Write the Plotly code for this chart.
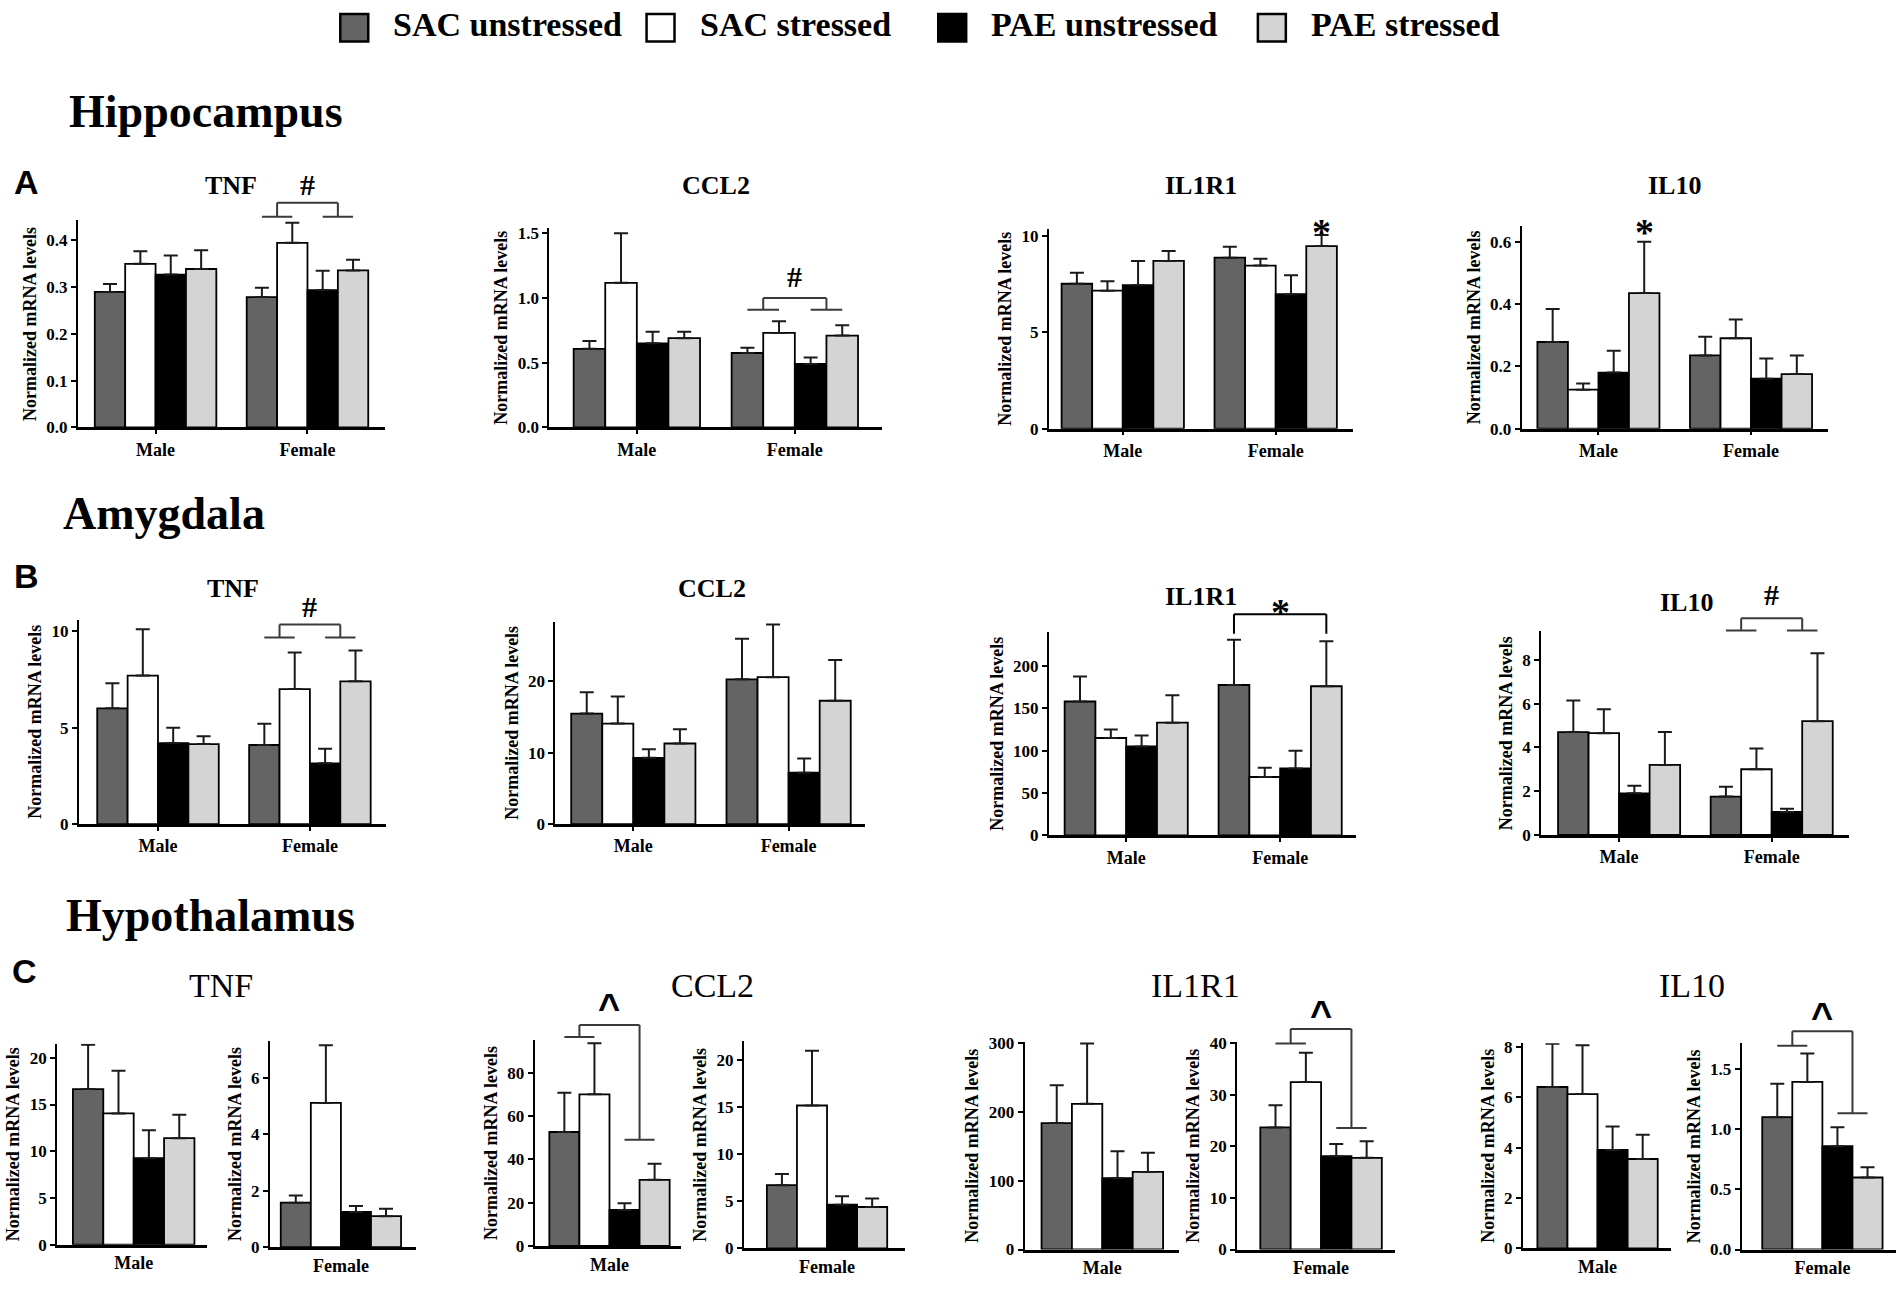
import plotly.graph_objects as go

W, H = 1902, 1289
FW, FH = 1565.0, 1060.6  # frame in which the positions below were measured

SERIF = 'Liberation Serif, Times New Roman, serif'
SANS = 'Liberation Sans, Arial, sans-serif'

groups = ['SAC unstressed', 'SAC stressed', 'PAE unstressed', 'PAE stressed']
colors = ['#646464', '#ffffff', '#000000', '#d4d4d4']
sexes = ['Male', 'Female']

# mean and upper SEM; rows = [Male, Female], columns = groups
hip_tnf_mean = [[0.290, 0.350, 0.327, 0.339], [0.279, 0.395, 0.294, 0.336]]
hip_tnf_sem = [[0.017, 0.027, 0.041, 0.040], [0.020, 0.043, 0.041, 0.023]]
hip_ccl2_mean = [[0.607, 1.117, 0.65, 0.69], [0.575, 0.73, 0.49, 0.71]]
hip_ccl2_sem = [[0.061, 0.383, 0.09, 0.05], [0.04, 0.09, 0.05, 0.08]]
hip_il1r1_mean = [[7.51, 7.15, 7.44, 8.69], [8.86, 8.45, 6.97, 9.46]]
hip_il1r1_sem = [[0.57, 0.49, 1.25, 0.52], [0.57, 0.35, 0.98, 0.57]]
hip_il10_mean = [[0.278, 0.125, 0.18, 0.435], [0.235, 0.29, 0.16, 0.175]]
hip_il10_sem = [[0.106, 0.02, 0.07, 0.165], [0.06, 0.06, 0.065, 0.06]]

amy_tnf_mean = [[6.0, 7.7, 4.2, 4.15], [4.1, 7.0, 3.15, 7.4]]
amy_tnf_sem = [[1.3, 2.4, 0.8, 0.4], [1.1, 1.9, 0.75, 1.6]]
amy_ccl2_mean = [[15.5, 14.1, 9.3, 11.3], [20.3, 20.6, 7.2, 17.3]]
amy_ccl2_sem = [[3.0, 3.8, 1.2, 2.0], [5.7, 7.4, 2.0, 5.7]]
amy_il1r1_mean = [[158, 115, 105, 133], [177.5, 69, 79, 176]]
amy_il1r1_sem = [[29.5, 10, 13, 32.5], [53.5, 11, 21, 53]]
amy_il10_mean = [[4.7, 4.65, 1.9, 3.2], [1.75, 3.0, 1.05, 5.2]]
amy_il10_sem = [[1.45, 1.1, 0.35, 1.5], [0.45, 0.95, 0.15, 3.1]]

hyp_tnf_mean = [[16.65, 14.05, 9.26, 11.4], [1.58, 5.12, 1.25, 1.10]]
hyp_tnf_sem = [[4.75, 4.55, 2.99, 2.5], [0.25, 2.05, 0.21, 0.26]]
hyp_ccl2_mean = [[52.6, 70.0, 16.6, 30.5], [6.71, 15.18, 4.64, 4.39]]
hyp_ccl2_sem = [[18.1, 23.6, 3.1, 7.4], [1.18, 5.82, 0.9, 0.9]]
hyp_il1r1_mean = [[184, 212, 104, 113], [23.7, 32.5, 18.1, 17.8]]
hyp_il1r1_sem = [[55, 88, 39, 28], [4.3, 5.7, 2.4, 3.2]]
hyp_il10_mean = [[6.41, 6.13, 3.91, 3.55], [1.097, 1.389, 0.856, 0.597]]
hyp_il10_sem = [[1.72, 1.94, 0.93, 0.96], [0.278, 0.236, 0.158, 0.084]]


def fx(v):
    return v / FW


def fy(v):
    return 1 - v / FH


fig = go.Figure()
annotations = []
shapes = []
count = [0]


def panel(mean, sem, cats, box, ybox, dtick, fmt='d', hyp=False):
    count[0] += 1
    n = count[0]
    sfx = '' if n == 1 else str(n)
    x0, bl, br, x1 = box
    unit = (br - bl) / (len(cats) - 1 + 0.8)
    c0 = bl + 0.4 * unit
    cn = br - 0.4 * unit
    xrange = [-(c0 - x0) / unit, len(cats) - 1 + (x1 - cn) / unit]
    y0, ref_v, ref_px, top = ybox
    k = (y0 - ref_px) / ref_v
    for i, g in enumerate(groups):
        fig.add_trace(go.Bar(
            x=cats, y=[m[i] for m in mean], name=g, showlegend=False,
            marker=dict(color=colors[i], line=dict(color='black', width=1.8)),
            error_y=dict(type='data', symmetric=False,
                         array=[s[i] for s in sem], arrayminus=[0] * len(cats),
                         color='#1a1a1a', thickness=2, width=7),
            xaxis='x' + sfx, yaxis='y' + sfx))
    fig.update_layout(**{
        'xaxis' + sfx: dict(
            domain=[fx(x0), fx(x1)], range=xrange, anchor='y' + sfx,
            showline=True, linecolor='black', linewidth=3 if hyp else 2.5,
            ticks='' if hyp else 'outside', ticklen=4, tickwidth=2, tickcolor='black',
            tickfont=dict(family=SERIF, size=18, color='black', weight='bold'),
            showgrid=False, zeroline=False),
        'yaxis' + sfx: dict(
            domain=[fy(y0), fy(y0 - top * k)], range=[0, top], anchor='x' + sfx,
            showline=True, linecolor='black', linewidth=2,
            ticks='outside', ticklen=5, tickwidth=2, tickcolor='black',
            tick0=0, dtick=dtick, tickformat=fmt,
            tickfont=dict(family=SERIF, size=17, color='black', weight='bold'),
            title=dict(text='Normalized mRNA levels', standoff=5,
                       font=dict(family=SERIF, size=18, color='black', weight='bold')),
            showgrid=False, zeroline=False),
    })
    return sfx, top


def mark(p, s, xpos, v, size=30, family=SERIF):
    sfx, top = p
    annotations.append(dict(text=s, x=xpos, y=v / top, xref='x' + sfx, yref='y' + sfx + ' domain',
                            showarrow=False, xanchor='center', yanchor='middle',
                            font=dict(family=family, size=size, color='black', weight='bold')))


def bracket(p, xl, xr, yt, yl, yr, feet=True, color='#3a3a3a'):
    sfx, top = p
    segs = [(xl, yt, xr, yt), (xl, yt, xl, yl), (xr, yt, xr, yr)]
    if feet:
        segs += [(xl - 0.1, yl, xl + 0.1, yl), (xr - 0.1, yr, xr + 0.1, yr)]
    for a, b, c, d in segs:
        shapes.append(dict(type='line', xref='x' + sfx, yref='y' + sfx + ' domain',
                           x0=a, y0=b / top, x1=c, y1=d / top,
                           line=dict(color=color, width=2)))


def text(s, x, y, size, family=SERIF, bold=True, xanchor='center'):
    annotations.append(dict(text=s, x=fx(x), y=fy(y), xref='paper', yref='paper',
                            showarrow=False, xanchor=xanchor, yanchor='middle',
                            font=dict(family=family, size=size, color='black',
                                      weight='bold' if bold else 'normal')))


# Hippocampus
a1 = panel(hip_tnf_mean, hip_tnf_sem, sexes, (64, 78, 303, 317), (350, 0.4, 194, 0.443), 0.1, '.1f')
a2 = panel(hip_ccl2_mean, hip_ccl2_sem, sexes, (452, 472, 706, 726), (350, 1.5, 188, 1.54), 0.5, '.1f')
a3 = panel(hip_il1r1_mean, hip_il1r1_sem, sexes, (863, 873.5, 1100, 1113), (351, 10, 190, 10.35), 5)
a4 = panel(hip_il10_mean, hip_il10_sem, sexes, (1252, 1265, 1491, 1504), (351, 0.6, 195, 0.65), 0.2, '.1f')

# Amygdala
b1 = panel(amy_tnf_mean, amy_tnf_sem, sexes, (65, 80, 305, 318), (681, 10, 520, 10.6), 5)
b2 = panel(amy_ccl2_mean, amy_ccl2_sem, sexes, (457, 470, 700, 712), (681, 20, 562, 28.4), 10)
b3 = panel(amy_il1r1_mean, amy_il1r1_sem, sexes, (863, 876, 1104, 1116), (690.5, 200, 549, 240), 50)
b4 = panel(amy_il10_mean, amy_il10_sem, sexes, (1268, 1282, 1508, 1521), (690, 8, 544, 9.3), 2)

# Hypothalamus (one subplot per sex)
c1 = panel(hyp_tnf_mean[:1], hyp_tnf_sem[:1], sexes[:1], (47, 60, 160, 170), (1032, 20, 876, 21.5), 5, hyp=True)
c2 = panel(hyp_tnf_mean[1:], hyp_tnf_sem[1:], sexes[1:], (222, 231, 330, 342), (1034, 6, 893, 7.33), 2, hyp=True)
c3 = panel(hyp_ccl2_mean[:1], hyp_ccl2_sem[:1], sexes[:1], (440, 452, 551, 560), (1033, 80, 888.4, 95), 20, hyp=True)
c4 = panel(hyp_ccl2_mean[1:], hyp_ccl2_sem[1:], sexes[1:], (612, 631, 730, 745), (1035, 20, 878, 22), 5, hyp=True)
c5 = panel(hyp_il1r1_mean[:1], hyp_il1r1_sem[:1], sexes[:1], (843, 857, 957, 970), (1036, 300, 864, 302), 100, hyp=True)
c6 = panel(hyp_il1r1_mean[1:], hyp_il1r1_sem[1:], sexes[1:], (1018, 1037, 1137, 1148), (1036, 40, 864, 40.3), 10, hyp=True)
c7 = panel(hyp_il10_mean[:1], hyp_il10_sem[:1], sexes[:1], (1253, 1265, 1364, 1375), (1035, 8, 867, 8.15), 2, hyp=True)
c8 = panel(hyp_il10_mean[1:], hyp_il10_sem[1:], sexes[1:], (1433, 1450, 1549, 1560), (1036, 1.5, 885, 1.71), 0.5, '.1f', hyp=True)

# significance brackets and marks
bracket(a1, 0.8, 1.2, 0.481, 0.451, 0.451)
mark(a1, '#', 1.0, 0.52)
bracket(a2, 0.8, 1.2, 1.0, 0.91, 0.91)
mark(a2, '#', 1.0, 1.17)
mark(a3, '*', 1.3, 10.2, size=38)
mark(a4, '*', 0.3, 0.63, size=38)

bracket(b1, 0.8, 1.2, 10.35, 9.67, 9.67)
mark(b1, '#', 1.0, 11.3)
bracket(b3, 0.7, 1.3, 261, 238, 238, feet=False, color='black')
mark(b3, '*', 1.0, 264, size=38)
bracket(b4, 0.8, 1.2, 9.9, 9.35, 9.35)
mark(b4, '#', 1.0, 11.0)

bracket(c3, -0.2, 0.2, 102, 96.5, 49)
mark(c3, '^', 0.0, 110, size=38, family=SANS)
bracket(c6, -0.2, 0.2, 42.8, 40, 23.6)
mark(c6, '^', 0.0, 45.6, size=38, family=SANS)
bracket(c8, -0.2, 0.2, 1.81, 1.69, 1.13)
mark(c8, '^', 0.0, 1.93, size=38, family=SANS)

# legend
legend_x = [280, 532, 772, 1035]
for i, g in enumerate(groups):
    shapes.append(dict(type='rect', xref='paper', yref='paper',
                       x0=fx(legend_x[i]), x1=fx(legend_x[i] + 23), y0=fy(28), y1=fy(5),
                       fillcolor=colors[i], line=dict(color='black', width=2.5)))
    text(g, legend_x[i] + 42, 14, 34, xanchor='left')

# section titles, panel letters, gene names
text('Hippocampus', 55, 86, 46, xanchor='left')
text('Amygdala', 50, 422, 46, xanchor='left')
text('Hypothalamus', 53, 757, 46, xanchor='left')
text('A', 22, 145, 34, family=SANS)
text('B', 22, 474, 34, family=SANS)
text('C', 20, 804, 34, family=SANS)

for name, xc in zip(['TNF', 'CCL2', 'IL1R1', 'IL10'], [190, 589, 988, 1378]):
    text(name, xc, 148, 26)
for name, xc, yc in zip(['TNF', 'CCL2', 'IL1R1', 'IL10'], [192, 586, 988, 1388], [484, 484, 491, 496]):
    text(name, xc, yc, 26)
for name, xc in zip(['TNF', 'CCL2', 'IL1R1', 'IL10'], [182, 586, 984, 1392]):
    text(name, xc, 816, 34, bold=False)

fig.update_layout(
    width=W, height=H,
    margin=dict(l=0, r=0, t=0, b=0),
    paper_bgcolor='white', plot_bgcolor='white',
    barmode='group', bargap=0.2, bargroupgap=0,
    showlegend=False,
    annotations=annotations, shapes=shapes,
)

# page margin off so the figure sits at the window origin
fig.write_html("out.html", config={'displayModeBar': False},
               post_script="document.body.style.margin = '0px';")
